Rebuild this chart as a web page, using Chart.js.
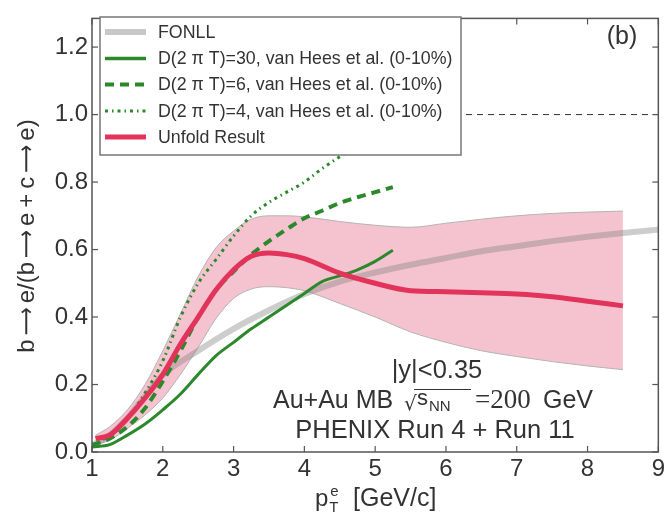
<!DOCTYPE html>
<html>
<head>
<meta charset="utf-8">
<script src="https://cdn.jsdelivr.net/npm/chart.js@4.4.0/dist/chart.umd.min.js"></script>
<style>
html, body { margin: 0; padding: 0; background: #fff; }
</style>
</head>
<body>
<canvas id="chart" width="668" height="514"></canvas>
<script>
// tick values
var xTicks = [1, 2, 3, 4, 5, 6, 7, 8, 9];
var yTicks = [0, 0.2, 0.4, 0.6, 0.8, 1.0, 1.2];

// unfold result and its band
var ptUnfold = [1.05, 1.25, 1.5, 1.75, 2.0, 2.25, 2.5, 2.75, 3.0, 3.25, 3.5, 3.75, 4.0, 4.5, 5.0, 5.5, 6.0, 6.5, 7.0, 7.5, 8.0, 8.5];
var unfold = [0.04, 0.05, 0.10, 0.16, 0.23, 0.32, 0.40, 0.48, 0.54, 0.58, 0.59, 0.585, 0.573, 0.53, 0.50, 0.478, 0.475, 0.472, 0.468, 0.46, 0.447, 0.433];
var unfoldHigh = [0.05, 0.075, 0.125, 0.20, 0.30, 0.41, 0.52, 0.605, 0.655, 0.69, 0.70, 0.70, 0.697, 0.683, 0.672, 0.666, 0.678, 0.69, 0.70, 0.707, 0.711, 0.714];
var unfoldLow = [0.022, 0.035, 0.07, 0.11, 0.16, 0.23, 0.31, 0.395, 0.455, 0.483, 0.49, 0.487, 0.478, 0.44, 0.40, 0.356, 0.325, 0.30, 0.283, 0.268, 0.255, 0.244];

// FONLL
var ptFonll = [1.0, 1.25, 1.5, 1.75, 2.0, 2.5, 3.0, 3.5, 4.0, 4.5, 5.0, 5.5, 6.0, 6.5, 7.0, 7.5, 8.0, 8.5, 9.0];
var fonll = [0.02, 0.05, 0.10, 0.165, 0.228, 0.30, 0.365, 0.42, 0.468, 0.505, 0.532, 0.555, 0.575, 0.595, 0.61, 0.625, 0.638, 0.649, 0.659];

// van Hees et al.
var ptHees = [1.0, 1.25, 1.5, 1.75, 2.0, 2.25, 2.5, 2.75, 3.0, 3.25, 3.5, 3.75, 4.0, 4.25, 4.5, 4.75, 5.0, 5.25];
var hees30 = [0.015, 0.022, 0.05, 0.083, 0.125, 0.172, 0.23, 0.285, 0.325, 0.365, 0.40, 0.435, 0.47, 0.505, 0.522, 0.54, 0.565, 0.598];
var hees6 = [0.02, 0.04, 0.075, 0.13, 0.21, 0.30, 0.40, 0.48, 0.535, 0.585, 0.625, 0.66, 0.693, 0.715, 0.738, 0.755, 0.77, 0.785];
var hees4 = [0.02, 0.05, 0.10, 0.175, 0.27, 0.40, 0.50, 0.57, 0.64, 0.70, 0.74, 0.77, 0.80, 0.84, 0.875, 0.91, 0.94, 0.97];

// reference line at 1
var ptRef = [1, 9];
var refLine = [1.0, 1.0];

var legendLabels = ['FONLL', 'D(2 \u03c0 T)=30, van Hees et al. (0-10%)', 'D(2 \u03c0 T)=6, van Hees et al. (0-10%)', 'D(2 \u03c0 T)=4, van Hees et al. (0-10%)', 'Unfold Result'];

var GREEN = '#2b882b';
var RED = '#e2335a';
var FONT = '"Liberation Sans", Arial, sans-serif';

function pts(xs, ys) {
    return xs.map(function(x, i) { return { x: x, y: ys[i] }; });
}

function line(ctx, x1, y1, x2, y2) {
    ctx.beginPath();
    ctx.moveTo(x1, y1);
    ctx.lineTo(x2, y2);
    ctx.stroke();
}

// text pieces {t, f, w (target width), pad}
function pieceScale(ctx, p) {
    ctx.font = p.f;
    var m = ctx.measureText(p.t).width;
    return p.w ? p.w / m : 1;
}

function runWidth(ctx, parts) {
    var w = 0;
    parts.forEach(function(p) {
        ctx.font = p.f;
        w += ctx.measureText(p.t).width * pieceScale(ctx, p) + 2 * (p.pad || 0);
    });
    return w;
}

function drawRun(ctx, parts, x, y) {
    parts.forEach(function(p) {
        var sx = pieceScale(ctx, p);
        var w = ctx.measureText(p.t).width;
        x += p.pad || 0;
        ctx.save();
        ctx.translate(x, y + (p.dy || 0));
        ctx.scale(sx, 1);
        ctx.fillText(p.t, 0, 0);
        ctx.restore();
        x += w * sx + (p.pad || 0);
    });
}

// frame, inward ticks, legend and text
var decorPlugin = {
    id: 'decor',
    afterDraw: function(chart) {
        var ctx = chart.ctx;
        var a = chart.chartArea;
        var xs = chart.scales.x;
        var ys = chart.scales.y;
        ctx.save();

        ctx.strokeStyle = '#555';
        ctx.lineWidth = 1.5;
        ctx.strokeRect(a.left, a.top, a.right - a.left, a.bottom - a.top);
        ctx.lineWidth = 1.2;
        xTicks.forEach(function(v) {
            var px = xs.getPixelForValue(v);
            line(ctx, px, a.bottom, px, a.bottom - 6);
            line(ctx, px, a.top, px, a.top + 6);
        });
        yTicks.forEach(function(v) {
            var py = ys.getPixelForValue(v);
            line(ctx, a.left, py, a.left + 6, py);
            line(ctx, a.right, py, a.right - 6, py);
        });

        // legend
        var lx = 100, ly = 17, lw = 361, lh = 138;
        ctx.fillStyle = '#fff';
        ctx.fillRect(lx, ly, lw, lh);
        ctx.strokeStyle = '#777';
        ctx.lineWidth = 1.5;
        ctx.strokeRect(lx, ly, lw, lh);
        var rows = [32, 58.5, 84.5, 111, 137];
        var styles = [
            { c: '#c8c8c8', w: 6, d: [] },
            { c: GREEN, w: 3.5, d: [] },
            { c: GREEN, w: 4, d: [9, 6] },
            { c: GREEN, w: 3, d: [3, 4, 1.5, 4] },
            { c: RED, w: 5, d: [] }
        ];
        ctx.font = '17.8px ' + FONT;
        ctx.textBaseline = 'middle';
        ctx.textAlign = 'left';
        rows.forEach(function(y, i) {
            ctx.strokeStyle = styles[i].c;
            ctx.lineWidth = styles[i].w;
            ctx.setLineDash(styles[i].d);
            line(ctx, 105, y, 146, y);
            ctx.setLineDash([]);
            ctx.fillStyle = '#333';
            ctx.fillText(legendLabels[i], 158, y + 1);
        });

        ctx.fillStyle = '#333';
        ctx.textBaseline = 'alphabetic';

        // panel tag
        ctx.font = '25px ' + FONT;
        ctx.textAlign = 'center';
        ctx.fillText('(b)', 622, 44);

        // annotations
        ctx.font = '25.5px ' + FONT;
        ctx.fillText('|y|<0.35', 437, 378);
        ctx.fillText('PHENIX Run 4 + Run 11', 435, 438);

        ctx.textAlign = 'left';
        ctx.font = '25px ' + FONT;
        ctx.fillText('Au+Au MB', 273, 408);
        ctx.font = '20px "DejaVu Sans", sans-serif';
        ctx.fillText('\u221a', 404, 410);
        ctx.font = '22px ' + FONT;
        ctx.fillText('s', 417, 405);
        ctx.font = '15px ' + FONT;
        ctx.fillText('NN', 429, 411);
        ctx.strokeStyle = '#333';
        ctx.lineWidth = 1;
        line(ctx, 414, 389.5, 471, 389.5);
        ctx.font = '27px "Liberation Serif", serif';
        ctx.fillText('=200', 475, 408);
        ctx.font = '25px ' + FONT;
        ctx.fillText('GeV', 543, 408);

        // x title
        ctx.font = '24px ' + FONT;
        ctx.fillText('p', 315, 506);
        var px2 = 315 + ctx.measureText('p').width + 1;
        ctx.font = '15px ' + FONT;
        ctx.fillText('T', px2, 512);
        ctx.fillText('e', px2 + 1, 496);
        ctx.font = '25px ' + FONT;
        ctx.fillText('[GeV/c]', 353, 506);

        // y title
        var tf = '24px ' + FONT;
        var af = '24px "DejaVu Sans", sans-serif';
        var arrow = { t: '\u27f6', f: af, w: 28, pad: 4 };
        var parts = [
            { t: 'b', f: tf }, arrow, { t: 'e/(b', f: tf }, arrow, { t: 'e', f: tf },
            { t: '+', f: tf, pad: 5 }, { t: 'c', f: tf }, arrow, { t: 'e)', f: tf }
        ];
        ctx.translate(34, 236);
        ctx.rotate(-Math.PI / 2);
        var tw = runWidth(ctx, parts);
        drawRun(ctx, parts, -tw / 2, 0);

        ctx.restore();
    }
};

var ctx = document.getElementById('chart').getContext('2d');
var chart = new Chart(ctx, {
    type: 'line',
    data: {
        datasets: [
            {
                label: 'band high',
                data: pts(ptUnfold, unfoldHigh),
                borderColor: '#b4b4b4',
                borderWidth: 1,
                backgroundColor: '#f5c3cf',
                fill: '+1',
                pointRadius: 0,
                cubicInterpolationMode: 'monotone',
                order: 10
            },
            {
                label: 'band low',
                data: pts(ptUnfold, unfoldLow),
                borderColor: '#b4b4b4',
                borderWidth: 1,
                fill: false,
                pointRadius: 0,
                cubicInterpolationMode: 'monotone',
                order: 9
            },
            {
                label: 'ref',
                data: pts(ptRef, refLine),
                borderColor: '#333',
                borderWidth: 1,
                borderDash: [6, 5],
                pointRadius: 0,
                order: 8
            },
            {
                label: legendLabels[0],
                data: pts(ptFonll, fonll),
                borderColor: 'rgba(130,130,130,0.4)',
                borderWidth: 6,
                pointRadius: 0,
                cubicInterpolationMode: 'monotone',
                order: 5
            },
            {
                label: legendLabels[1],
                data: pts(ptHees, hees30),
                borderColor: GREEN,
                borderWidth: 3,
                pointRadius: 0,
                cubicInterpolationMode: 'monotone',
                order: 4
            },
            {
                label: legendLabels[2],
                data: pts(ptHees, hees6),
                borderColor: GREEN,
                borderWidth: 4,
                borderDash: [9, 6],
                pointRadius: 0,
                cubicInterpolationMode: 'monotone',
                order: 3
            },
            {
                label: legendLabels[3],
                data: pts(ptHees, hees4),
                borderColor: GREEN,
                borderWidth: 3,
                borderDash: [3, 4, 1.5, 4],
                pointRadius: 0,
                cubicInterpolationMode: 'monotone',
                order: 2
            },
            {
                label: legendLabels[4],
                data: pts(ptUnfold, unfold),
                borderColor: RED,
                borderWidth: 5,
                pointRadius: 0,
                cubicInterpolationMode: 'monotone',
                order: 1
            }
        ]
    },
    options: {
        responsive: false,
        animation: false,
        layout: { padding: { top: 10, right: 6, left: 0, bottom: 0 } },
        plugins: {
            legend: { display: false },
            tooltip: { enabled: false }
        },
        scales: {
            x: {
                type: 'linear',
                min: 1,
                max: 9,
                grid: { display: false, drawTicks: false },
                border: { display: false },
                ticks: {
                    stepSize: 1,
                    padding: 3,
                    color: '#333',
                    font: { family: FONT, size: 24 },
                    callback: function(v) { return v; }
                },
                afterFit: function(scale) { scale.height = 62; }
            },
            y: {
                min: 0,
                max: 1.285,
                grid: { display: false, drawTicks: false },
                border: { display: false },
                ticks: {
                    stepSize: 0.2,
                    includeBounds: false,
                    padding: 4,
                    color: '#333',
                    font: { family: FONT, size: 24 },
                    callback: function(v) { return v.toFixed(1); }
                },
                afterFit: function(scale) { scale.width = 92; }
            }
        }
    },
    plugins: [decorPlugin]
});
</script>
</body>
</html>
